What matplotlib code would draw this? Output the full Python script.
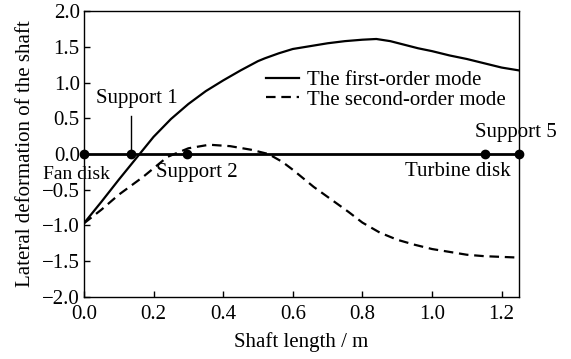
import matplotlib
matplotlib.use("Agg")
import matplotlib.pyplot as plt

plt.rcParams["font.family"] = ["Liberation Serif", "DejaVu Serif"]
plt.rcParams["font.size"] = 15

# first-order mode
x1 = [0.0, 0.05, 0.1, 0.16, 0.2, 0.25, 0.3, 0.35, 0.4, 0.45, 0.5, 0.52, 0.56, 0.6, 0.65,
      0.7, 0.75, 0.8, 0.84, 0.88, 0.92, 0.96, 1.0, 1.05, 1.1, 1.15, 1.2, 1.25]
y1 = [-0.97, -0.67, -0.36, 0.0, 0.24, 0.49, 0.70, 0.88, 1.03, 1.17, 1.30, 1.34, 1.41, 1.47, 1.51,
      1.55, 1.58, 1.60, 1.61, 1.58, 1.53, 1.48, 1.44, 1.38, 1.33, 1.27, 1.21, 1.17]

# second-order mode
x2 = [0.0, 0.05, 0.1, 0.17, 0.24, 0.3, 0.36, 0.42, 0.48, 0.53, 0.57, 0.6, 0.63, 0.66, 0.72,
      0.76, 0.8, 0.85, 0.9, 0.95, 1.0, 1.05, 1.1, 1.15, 1.2, 1.25]
y2 = [-0.97, -0.78, -0.57, -0.32, -0.04, 0.08, 0.13, 0.11, 0.06, 0.0, -0.11, -0.22, -0.34, -0.46, -0.67,
      -0.81, -0.96, -1.10, -1.20, -1.27, -1.33, -1.37, -1.41, -1.43, -1.44, -1.45]

# shaft line with supports / disks
node_x = [0.0, 0.135, 0.297, 1.153, 1.25]
node_y = [0.0, 0.0, 0.0, 0.0, 0.0]

fig = plt.figure(figsize=(5.71, 3.59), dpi=100)
ax = fig.add_axes([0.147, 0.173, 0.762, 0.796])

ax.plot(x1, y1, color="black", lw=1.6, label="The first-order mode")
ax.plot(x2, y2, color="black", lw=1.6, linestyle=(0, (4.3, 2.6)), label="The second-order mode")
ax.plot(node_x, node_y, color="black", lw=2.0, marker="o", markersize=6, clip_on=False, zorder=5)

# labels on the shaft
ax.text(0.152, 0.78, "Support 1", ha="center", va="center")
ax.plot([0.135, 0.135], [0.53, 0.06], color="black", lw=1.0)
ax.text(-0.02, -0.28, "Fan disk", ha="center", va="center", fontsize=14)
ax.text(0.325, -0.26, "Support 2", ha="center", va="center")
ax.text(1.073, -0.24, "Turbine disk", ha="center", va="center")
ax.text(1.241, 0.30, "Support 5", ha="center", va="center")

ax.set_xlim(0, 1.25)
ax.set_ylim(-2.0, 2.0)
ax.set_xticks([0.0, 0.2, 0.4, 0.6, 0.8, 1.0, 1.2])
ax.set_yticks([-2.0, -1.5, -1.0, -0.5, 0.0, 0.5, 1.0, 1.5, 2.0])
ax.set_xticklabels(["0.0", "0.2", "0.4", "0.6", "0.8", "1.0", "1.2"])
ax.tick_params(direction="in", length=4, width=1.0, top=False, right=False)
ax.tick_params(axis="x", pad=6)
ax.tick_params(axis="y", pad=3)
for s in ax.spines.values():
    s.set_linewidth(1.0)

ax.set_xlabel("Shaft length / m", labelpad=6)
ax.set_ylabel("Lateral deformation of the shaft", labelpad=5)

ax.legend(loc="center left", bbox_to_anchor=(0.418, 0.724), frameon=False,
          handlelength=1.6, handletextpad=0.4, borderpad=0, borderaxespad=0,
          labelspacing=0.0)

fig.savefig("out.png", dpi=100)
